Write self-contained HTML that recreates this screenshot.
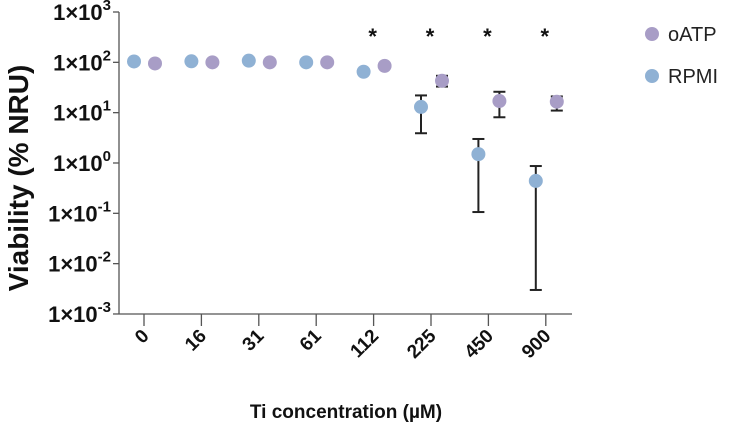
<!DOCTYPE html>
<html><head><meta charset="utf-8"><style>
body{margin:0;background:#fff}
svg{display:block;font-family:"Liberation Sans",Arial,sans-serif}
</style></head><body>
<svg id="c" width="752" height="422"></svg>
<script>
const categories=["0","16","31","61","112","225","450","900"];
const rpmiMean=[104,105,108,100,65,13,1.5,0.44];
const rpmiLow=[100,101,104,96,60,3.9,0.106,0.003];
const rpmiHigh=[108,109,112,104,70,22,3.0,0.87];
const oatpMean=[95,100,100,100,85,43,17,16.5];
const oatpLow=[91,96,96,96,81,33,8.1,11];
const oatpHigh=[99,104,104,104,89,54,26,21];
const yTicks=[3,2,1,0,-1,-2,-3];
const sigFlags=[0,0,0,0,1,1,1,1];
const NS="http://www.w3.org/2000/svg";
const svg=document.getElementById('c');
function el(t,a,p){const e=document.createElementNS(NS,t);for(const k in a)e.setAttribute(k,a[k]);(p||svg).appendChild(e);return e;}
const y0=12,pxDec=50.33;
function yS(v){return y0+(3-Math.log10(v))*pxDec;}
function yE(e){return y0+(3-e)*pxDec;}
function xS(i){return 144+i*57.4;}
const BLUE="#8fb1d4",PURP="#a89dc6";
let a=el('line',{x1:119,y1:12,x2:119,y2:314,stroke:"#555","stroke-width":1.3});

a=el('line',{x1:119,y1:314,x2:572,y2:314,stroke:"#555","stroke-width":1.3});

yTicks.forEach(e=>{
  const y=yE(e);
  const l=el('line',{x1:113,y1:y,x2:119,y2:y,stroke:"#555","stroke-width":1.3});
  
  const t=el('text',{x:111,y:y+8,"text-anchor":"end","font-size":22,"font-weight":"bold",fill:"#111"});
  
  t.textContent="1×10";
  const s=el('tspan',{dy:-10,"font-size":15},t);s.textContent=String(e);
});
categories.forEach((c,i)=>{
  const x=xS(i);
  const l=el('line',{x1:x,y1:314,x2:x,y2:326,stroke:"#555","stroke-width":1.3});
  
  const t=el('text',{x:0,y:0,"text-anchor":"end","font-size":19,"font-weight":"bold",fill:"#111",transform:`translate(${x+6},${337}) rotate(-45)`});
  
  t.textContent=c;
});
function series(mean,lo,hi,dx,col,name){
  mean.forEach((v,i)=>{
    const x=xS(i)+dx;
    const g=el('g',{});
    
    const yl=yS(lo[i]),yh=yS(hi[i]);
    el('line',{x1:x,y1:yh,x2:x,y2:yl,stroke:"#222","stroke-width":2},g);
    el('line',{x1:x-6,y1:yh,x2:x+6,y2:yh,stroke:"#222","stroke-width":2},g);
    el('line',{x1:x-6,y1:yl,x2:x+6,y2:yl,stroke:"#222","stroke-width":2},g);
    el('circle',{cx:x,cy:yS(v),r:7,fill:col},g);
  });
}
series(rpmiMean,rpmiLow,rpmiHigh,-10,BLUE,'rpmi');
series(oatpMean,oatpLow,oatpHigh,11,PURP,'oatp');
sigFlags.forEach((f,i)=>{
  if(!f)return;
  const t=el('text',{x:xS(i)-1,y:44,"text-anchor":"middle","font-size":22,"font-weight":"bold",fill:"#111"});
  
  t.textContent="*";
});
[["oATP",PURP,34],["RPMI",BLUE,76]].forEach(([n,c,y])=>{
  const g=el('g',{});
  
  el('circle',{cx:652,cy:y,r:7,fill:c},g);
  const t=el('text',{x:668,y:y+7,"font-size":20,fill:"#222"},g);t.textContent=n;
});
let t=el('text',{x:346,y:418,"text-anchor":"middle","font-size":19,"font-weight":"bold",fill:"#111"});

t.textContent="Ti concentration (µM)";
t=el('text',{x:0,y:0,"text-anchor":"middle","font-size":28,"font-weight":"bold",fill:"#111",transform:"translate(28,178) rotate(-90)"});

t.textContent="Viability (% NRU)";
</script>
</body></html>
